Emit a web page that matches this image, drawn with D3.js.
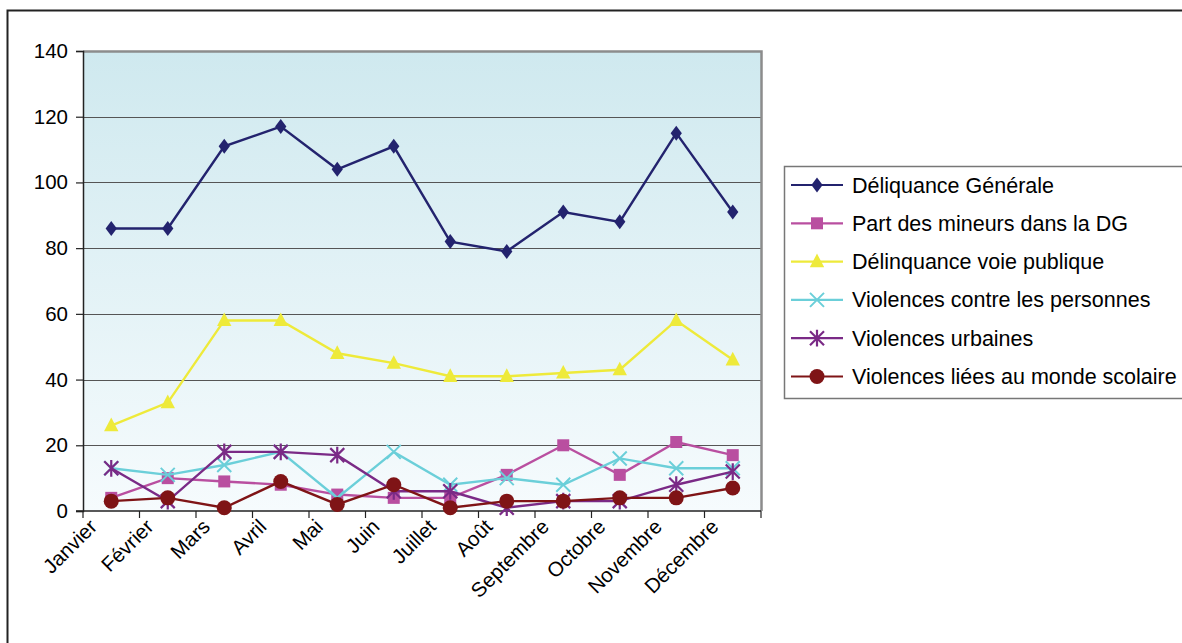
<!DOCTYPE html>
<html>
<head>
<meta charset="utf-8">
<script src="https://cdn.jsdelivr.net/npm/d3@7"></script>
<style>
    body { margin: 0; background: #fff; }
    svg { display: block; font-family: "Liberation Sans", Arial, sans-serif; }
</style>
</head>
<body>
<div class="chart"></div>
<script>
// Data
const months = ["Janvier", "Février", "Mars", "Avril", "Mai", "Juin", "Juillet", "Août", "Septembre", "Octobre", "Novembre", "Décembre"];
const yTicks = [0, 20, 40, 60, 80, 100, 120, 140];

const delinquanceGenerale = [86, 86, 111, 117, 104, 111, 82, 79, 91, 88, 115, 91];
const partMineurs = [4, 10, 9, 8, 5, 4, 4, 11, 20, 11, 21, 17];
const voiePublique = [26, 33, 58, 58, 48, 45, 41, 41, 42, 43, 58, 46];
const violencesPersonnes = [13, 11, 14, 18, 4, 18, 8, 10, 8, 16, 13, 13];
const violencesUrbaines = [13, 3, 18, 18, 17, 6, 6, 1, 3, 3, 8, 12];
const violencesScolaire = [3, 4, 1, 9, 2, 8, 1, 3, 3, 4, 4, 7];

const seriesNames = ["Déliquance Générale", "Part des mineurs dans la DG", "Délinquance voie publique", "Violences contre les personnes", "Violences urbaines", "Violences liées au monde scolaire"];
const seriesColors = ["#23236e", "#b94fa0", "#eeea3a", "#6bcfd9", "#7a2a86", "#7f1416"];
const seriesMarkers = ["diamond", "square", "triangle", "x", "star", "circle"];

const series = [delinquanceGenerale, partMineurs, voiePublique, violencesPersonnes, violencesUrbaines, violencesScolaire]
    .map((values, i) => ({ name: seriesNames[i], color: seriesColors[i], marker: seriesMarkers[i], values }));

// Layout
const W = 1182, H = 643;
const plot = { left: 83, top: 51, right: 761, bottom: 511 };

const svg = d3.select(".chart").append("svg").attr("width", W).attr("height", H);

// outer chart border
svg.append("rect")
    .attr("x", 7.5).attr("y", 10.5)
    .attr("width", W + 20).attr("height", H + 20)
    .attr("fill", "#fff").attr("stroke", "#222").attr("stroke-width", 2);

const defs = svg.append("defs");
const grad = defs.append("linearGradient").attr("id", "bg").attr("x1", 0).attr("y1", 0).attr("x2", 0).attr("y2", 1);
grad.append("stop").attr("offset", "0%").attr("stop-color", "#cfe9ef");
grad.append("stop").attr("offset", "100%").attr("stop-color", "#f6fbfd");

const x = d3.scaleBand().domain(months).range([plot.left, plot.right]);
const y = d3.scaleLinear().domain([0, 140]).range([plot.bottom, plot.top]);

svg.append("rect")
    .attr("x", plot.left).attr("y", plot.top)
    .attr("width", plot.right - plot.left).attr("height", plot.bottom - plot.top)
    .attr("fill", "url(#bg)");

// gridlines
svg.append("g")
    .selectAll("line")
    .data(yTicks.filter((d) => d > 0 && d < 140))
    .join("line")
    .attr("x1", plot.left).attr("x2", plot.right)
    .attr("y1", (d) => Math.round(y(d)) + 0.5).attr("y2", (d) => Math.round(y(d)) + 0.5)
    .attr("stroke", "#555").attr("stroke-width", 1.2);

// top and right plot border (grey)
svg.append("path")
    .attr("d", `M${plot.left},${plot.top + 0.5}H${plot.right + 0.5}V${plot.bottom}`)
    .attr("fill", "none").attr("stroke", "#8c8c8c").attr("stroke-width", 2.5);

// y axis
const yAxis = svg.append("g")
    .attr("transform", `translate(${plot.left},0)`)
    .call(d3.axisLeft(y).tickValues(yTicks).tickSize(7).tickPadding(8));
yAxis.select(".domain").attr("stroke", "#222").attr("stroke-width", 1.5);
yAxis.selectAll(".tick line").attr("stroke", "#222").attr("stroke-width", 1.2);
yAxis.selectAll(".tick text").attr("font-size", "20.5px").attr("fill", "#000");

// x axis: ticks on band edges
const edges = months.map((m) => x(m)).concat([plot.right]);
const xAxisG = svg.append("g");
xAxisG.append("line")
    .attr("x1", plot.left - 7).attr("x2", plot.right)
    .attr("y1", plot.bottom).attr("y2", plot.bottom)
    .attr("stroke", "#222").attr("stroke-width", 1.5);
xAxisG.selectAll(".xt")
    .data(edges)
    .join("line")
    .attr("x1", (d) => d).attr("x2", (d) => d)
    .attr("y1", plot.bottom).attr("y2", plot.bottom + 7)
    .attr("stroke", "#222").attr("stroke-width", 1.2);
xAxisG.selectAll("text")
    .data(months)
    .join("text")
    .attr("text-anchor", "end")
    .attr("font-size", "20.5px")
    .attr("fill", "#000")
    .attr("transform", (d) => `translate(${x(d) + x.bandwidth() / 2 - 13},${plot.bottom + 17}) rotate(-45)`)
    .text((d) => d);

// marker shapes
function drawMarker(sel, type, color, size) {
    const s = size;
    if (type === "diamond") {
        sel.append("path").attr("d", `M0,${-s}L${s * 0.75},0L0,${s}L${-s * 0.75},0Z`).attr("fill", color);
    } else if (type === "square") {
        sel.append("rect").attr("x", -s * 0.8).attr("y", -s * 0.8).attr("width", s * 1.6).attr("height", s * 1.6).attr("fill", color);
    } else if (type === "triangle") {
        sel.append("path").attr("d", `M0,${-s}L${s * 0.9},${s * 0.7}L${-s * 0.9},${s * 0.7}Z`).attr("fill", color);
    } else if (type === "x") {
        sel.append("path").attr("d", `M${-s},${-s}L${s},${s}M${-s},${s}L${s},${-s}`).attr("stroke", color).attr("stroke-width", 2);
    } else if (type === "star") {
        sel.append("path")
            .attr("d", `M${-s},${-s}L${s},${s}M${-s},${s}L${s},${-s}M0,${-s * 1.2}V${s * 1.2}`)
            .attr("stroke", color).attr("stroke-width", 2.2);
    } else if (type === "circle") {
        sel.append("circle").attr("r", s).attr("fill", color);
    }
}

const markerSize = { diamond: 7.5, square: 7.5, triangle: 8, x: 7, star: 7, circle: 7.5 };

const line = d3.line()
    .x((d, i) => x(months[i]) + x.bandwidth() / 2)
    .y((d) => y(d));

series.forEach((s) => {
    const g = svg.append("g");
    g.append("path")
        .attr("d", line(s.values))
        .attr("fill", "none")
        .attr("stroke", s.color)
        .attr("stroke-width", 2.4);
    g.selectAll(".m")
        .data(s.values)
        .join("g")
        .attr("transform", (d, i) => `translate(${x(months[i]) + x.bandwidth() / 2},${y(d)})`)
        .each(function () {
            drawMarker(d3.select(this), s.marker, s.color, markerSize[s.marker]);
        });
});

// legend
const legend = svg.append("g");
legend.append("rect")
    .attr("x", 784.5).attr("y", 166.5)
    .attr("width", 420).attr("height", 232)
    .attr("fill", "#fff").attr("stroke", "#777").attr("stroke-width", 1.5);

series.forEach((s, i) => {
    const ly = 185 + i * 38.3;
    const item = legend.append("g");
    item.append("line")
        .attr("x1", 791).attr("x2", 843)
        .attr("y1", ly).attr("y2", ly)
        .attr("stroke", s.color).attr("stroke-width", 2.2);
    const mg = item.append("g").attr("transform", `translate(817,${ly})`);
    drawMarker(mg, s.marker, s.color, markerSize[s.marker]);
    item.append("text")
        .attr("x", 852).attr("y", ly)
        .attr("dy", "0.35em")
        .attr("font-size", "21.5px")
        .attr("fill", "#000")
        .text(s.name);
});
</script>
</body>
</html>
